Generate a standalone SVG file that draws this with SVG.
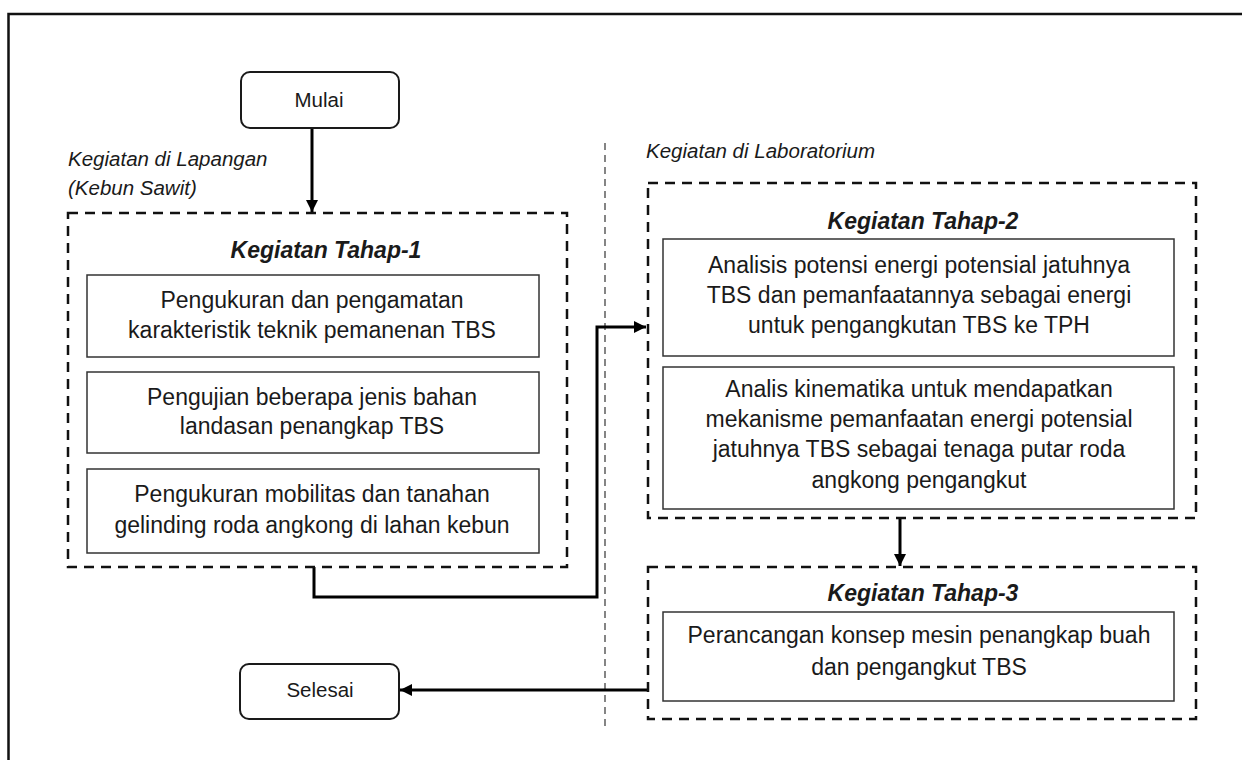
<svg xmlns="http://www.w3.org/2000/svg" width="1242" height="760" viewBox="0 0 1242 760">
  <defs>
    <style>
      text { font-family: "Liberation Sans", Arial, sans-serif; fill: #1a1a1a; }
      .box { fill: #ffffff; stroke: #333333; stroke-width: 1.5; }
      .term { fill: #ffffff; stroke: #1a1a1a; stroke-width: 2; }
      .group { fill: none; stroke: #111111; stroke-width: 2.5; stroke-dasharray: 10 7; }
      .divider { fill: none; stroke: #444444; stroke-width: 1.3; stroke-dasharray: 7 5; }
      .conn { fill: none; stroke: #000000; stroke-width: 3; }
      .body { font-size: 23px; text-anchor: middle; }
      .title { font-size: 23px; font-weight: bold; font-style: italic; text-anchor: middle; }
      .label { font-size: 20.5px; font-style: italic; }
      .termtext { font-size: 20.5px; text-anchor: middle; }
    </style>
    <marker id="arrow" viewBox="0 0 10 10" refX="10" refY="5" markerWidth="4.2" markerHeight="4" markerUnits="strokeWidth" orient="auto">
      <path d="M0,0 L10,5 L0,10 z" fill="#000000"/>
    </marker>
  </defs>

  <rect x="0" y="0" width="1242" height="760" fill="#ffffff"/>
  <!-- outer frame -->
  <rect x="8.5" y="14" width="1250" height="760" fill="none" stroke="#111111" stroke-width="2.5"/>

  <!-- divider -->
  <line class="divider" x1="605" y1="143" x2="605" y2="730"/>

  <!-- labels -->
  <g id="label-lapangan">
    <text class="label" x="68" y="166">Kegiatan di Lapangan</text>
    <text class="label" x="68" y="195">(Kebun Sawit)</text>
  </g>
  <g id="label-lab">
    <text class="label" x="646" y="158">Kegiatan di Laboratorium</text>
  </g>

  <!-- connectors -->
  <g id="connectors">
    <line class="conn" x1="312" y1="128" x2="312" y2="212" marker-end="url(#arrow)"/>
    <polyline class="conn" points="314,567 314,597 597,597 597,327 646,327" marker-end="url(#arrow)"/>
    <line class="conn" x1="900" y1="518" x2="900" y2="566" marker-end="url(#arrow)"/>
    <line class="conn" x1="648" y1="690" x2="400" y2="690" marker-end="url(#arrow)"/>
  </g>

  <g id="mulai">
    <rect class="term" x="241" y="72" width="158" height="56" rx="9" ry="9"/>
    <text class="termtext" x="319" y="107">Mulai</text>
  </g>

  <g id="tahap1">
    <rect class="group" x="68" y="213" width="499" height="354"/>
    <text class="title" x="326" y="258">Kegiatan Tahap-1</text>
  </g>
  <g id="t1-box1">
    <rect class="box" x="87" y="275" width="452" height="82"/>
    <text class="body" x="312" y="308">Pengukuran dan pengamatan</text>
    <text class="body" x="312" y="338">karakteristik teknik pemanenan TBS</text>
  </g>
  <g id="t1-box2">
    <rect class="box" x="87" y="372" width="452" height="81"/>
    <text class="body" x="312" y="405">Pengujian beberapa jenis bahan</text>
    <text class="body" x="312" y="434">landasan penangkap TBS</text>
  </g>
  <g id="t1-box3">
    <rect class="box" x="87" y="469" width="452" height="84"/>
    <text class="body" x="312" y="502">Pengukuran mobilitas dan tanahan</text>
    <text class="body" x="312" y="533">gelinding roda angkong di lahan kebun</text>
  </g>

  <g id="tahap2">
    <rect class="group" x="648" y="183" width="548" height="335"/>
    <text class="title" x="923" y="229">Kegiatan Tahap-2</text>
  </g>
  <g id="t2-box1">
    <rect class="box" x="663" y="239" width="511" height="117"/>
    <text class="body" x="919" y="273">Analisis potensi energi potensial jatuhnya</text>
    <text class="body" x="919" y="303">TBS dan pemanfaatannya sebagai energi</text>
    <text class="body" x="919" y="333">untuk pengangkutan TBS ke TPH</text>
  </g>
  <g id="t2-box2">
    <rect class="box" x="663" y="367" width="511" height="142"/>
    <text class="body" x="919" y="397">Analis kinematika untuk mendapatkan</text>
    <text class="body" x="919" y="427">mekanisme pemanfaatan energi potensial</text>
    <text class="body" x="919" y="457">jatuhnya TBS sebagai tenaga putar roda</text>
    <text class="body" x="919" y="488">angkong pengangkut</text>
  </g>

  <g id="tahap3">
    <rect class="group" x="648" y="567" width="548" height="152"/>
    <text class="title" x="923" y="601">Kegiatan Tahap-3</text>
  </g>
  <g id="t3-box1">
    <rect class="box" x="663" y="612" width="511" height="89"/>
    <text class="body" x="919" y="643">Perancangan konsep mesin penangkap buah</text>
    <text class="body" x="919" y="675">dan pengangkut TBS</text>
  </g>

  <g id="selesai">
    <rect class="term" x="240" y="664" width="159" height="55" rx="9" ry="9"/>
    <text class="termtext" x="320" y="697">Selesai</text>
  </g>
</svg>
